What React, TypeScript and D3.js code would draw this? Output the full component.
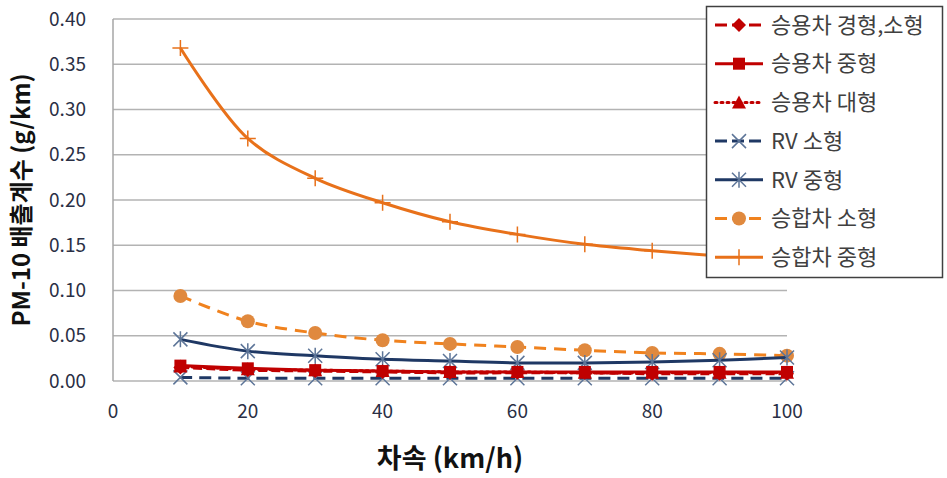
import React, { useEffect, useRef } from 'react';
import * as d3 from 'd3';

// speeds (km/h)
const speeds = [10, 20, 30, 40, 50, 60, 70, 80, 90, 100];
const xTicks = [0, 20, 40, 60, 80, 100];
const yTicks = [0, 0.05, 0.1, 0.15, 0.2, 0.25, 0.3, 0.35, 0.4];

const carSmall = [0.015, 0.012, 0.011, 0.010, 0.009, 0.009, 0.009, 0.008, 0.008, 0.008];
const carMid = [0.017, 0.014, 0.012, 0.011, 0.010, 0.010, 0.010, 0.010, 0.010, 0.010];
const carLarge = [0.016, 0.013, 0.012, 0.011, 0.010, 0.010, 0.009, 0.009, 0.009, 0.009];
const rvSmall = [0.004, 0.003, 0.003, 0.003, 0.003, 0.003, 0.003, 0.003, 0.003, 0.003];
const rvMid = [0.046, 0.033, 0.028, 0.024, 0.022, 0.020, 0.020, 0.021, 0.023, 0.026];
const vanSmall = [0.094, 0.066, 0.053, 0.045, 0.041, 0.0375, 0.034, 0.031, 0.030, 0.028];
const vanMid = [0.368, 0.268, 0.224, 0.197, 0.176, 0.162, 0.151, 0.144, 0.138, 0.132];

const seriesNames = [
  '승용차 경형,소형',
  '승용차 중형',
  '승용차 대형',
  'RV 소형',
  'RV 중형',
  '승합차 소형',
  '승합차 중형',
];

type Marker = 'diamond' | 'square' | 'triangle' | 'x' | 'asterisk' | 'circle' | 'plus';

const styles: { color: string; dash: string; marker: Marker; mColor: string; width: number }[] = [
  { color: '#c00000', dash: '9,4', marker: 'diamond', mColor: '#c00000', width: 3 },
  { color: '#c00000', dash: '', marker: 'square', mColor: '#c00000', width: 3 },
  { color: '#c00000', dash: '2,4', marker: 'triangle', mColor: '#c00000', width: 3 },
  { color: '#1f3864', dash: '12,7', marker: 'x', mColor: '#5d7598', width: 3 },
  { color: '#1f3864', dash: '', marker: 'asterisk', mColor: '#5d7598', width: 3 },
  { color: '#f0821e', dash: '12,8', marker: 'circle', mColor: '#e0893e', width: 3 },
  { color: '#e8711a', dash: '', marker: 'plus', mColor: '#e8711a', width: 3 },
];

const allValues = [carSmall, carMid, carLarge, rvSmall, rvMid, vanSmall, vanMid];

const font = "'Noto Sans CJK KR', 'Noto Sans', sans-serif";

function drawMarker(g: any, type: Marker, x: number, y: number, color: string) {
  if (type === 'diamond') {
    g.append('path').attr('d', `M${x},${y - 7}L${x + 7},${y}L${x},${y + 7}L${x - 7},${y}Z`).attr('fill', color);
  } else if (type === 'square') {
    g.append('rect').attr('x', x - 6).attr('y', y - 6).attr('width', 12).attr('height', 12).attr('fill', color);
  } else if (type === 'triangle') {
    g.append('path').attr('d', `M${x},${y - 7}L${x + 7},${y + 6}L${x - 7},${y + 6}Z`).attr('fill', color);
  } else if (type === 'circle') {
    g.append('circle').attr('cx', x).attr('cy', y).attr('r', 7).attr('fill', color);
  } else if (type === 'x') {
    g.append('path').attr('d', `M${x - 7},${y - 7}L${x + 7},${y + 7}M${x - 7},${y + 7}L${x + 7},${y - 7}`)
      .attr('stroke', color).attr('stroke-width', 1.5);
  } else if (type === 'asterisk') {
    g.append('path').attr('d', `M${x - 7},${y - 7}L${x + 7},${y + 7}M${x - 7},${y + 7}L${x + 7},${y - 7}M${x},${y - 8}L${x},${y + 8}`)
      .attr('stroke', color).attr('stroke-width', 1.5);
  } else if (type === 'plus') {
    g.append('path').attr('d', `M${x - 8},${y}L${x + 8},${y}M${x},${y - 8}L${x},${y + 8}`)
      .attr('stroke', color).attr('stroke-width', 1.5);
  }
}

const App = () => {
  const svgRef = useRef<SVGSVGElement>(null);

  useEffect(() => {
    const width = 947;
    const height = 478;
    const svg = d3.select(svgRef.current);
    svg.selectAll('*').remove();
    svg.attr('width', width).attr('height', height);

    const xScale = d3.scaleLinear().domain([0, 100]).range([113, 787]);
    const yScale = d3.scaleLinear().domain([0, 0.4]).range([381, 19]);

    // grid
    svg.append('g').selectAll('line').data(yTicks).enter().append('line')
      .attr('x1', xScale(0)).attr('x2', xScale(100))
      .attr('y1', (d) => yScale(d)).attr('y2', (d) => yScale(d))
      .attr('stroke', '#b3b3b3').attr('stroke-width', 1.5);

    svg.append('line')
      .attr('x1', xScale(0)).attr('x2', xScale(0))
      .attr('y1', yScale(0.4)).attr('y2', yScale(0))
      .attr('stroke', '#a6a6a6').attr('stroke-width', 1.5);

    // tick labels
    svg.append('g').selectAll('text').data(yTicks).enter().append('text')
      .attr('x', 86).attr('y', (d) => yScale(d))
      .attr('dy', '0.35em').attr('text-anchor', 'end')
      .style('font-family', font).style('font-size', '19px').style('fill', '#2a2f45')
      .text((d) => d3.format('.2f')(d));

    svg.append('g').selectAll('text').data(xTicks).enter().append('text')
      .attr('x', (d) => xScale(d)).attr('y', 411)
      .attr('dy', '0.35em').attr('text-anchor', 'middle')
      .style('font-family', font).style('font-size', '19px').style('fill', '#2a2f45')
      .text((d) => d);

    // axis titles
    svg.append('text')
      .attr('transform', 'rotate(-90)')
      .attr('x', -200).attr('y', 22)
      .attr('dy', '0.35em').attr('text-anchor', 'middle')
      .style('font-family', font).style('font-size', '24px').style('font-weight', 'bold').style('fill', '#111')
      .text('PM-10 배출계수 (g/km)');

    svg.append('text')
      .attr('x', 450).attr('y', 459)
      .attr('dy', '0.35em').attr('text-anchor', 'middle')
      .style('font-family', font).style('font-size', '27px').style('font-weight', 'bold').style('fill', '#111')
      .text('차속 (km/h)');

    // series
    const line = d3.line<number>()
      .x((_, i) => xScale(speeds[i]))
      .y((d) => yScale(d))
      .curve(d3.curveCatmullRom.alpha(0.5));

    const order = [6, 5, 4, 3, 0, 2, 1];
    order.forEach((si) => {
      const st = styles[si];
      const g = svg.append('g');
      g.append('path')
        .datum(allValues[si])
        .attr('fill', 'none')
        .attr('stroke', st.color)
        .attr('stroke-width', st.width)
        .attr('stroke-dasharray', st.dash || null)
        .attr('stroke-linecap', st.dash === '2,4' ? 'round' : 'butt')
        .attr('d', line);
      allValues[si].forEach((v, i) => drawMarker(g, st.marker, xScale(speeds[i]), yScale(v), st.mColor));
    });

    // legend
    const lg = svg.append('g');
    lg.append('rect')
      .attr('x', 706.5).attr('y', 6.5).attr('width', 236).attr('height', 271)
      .attr('fill', 'white').attr('stroke', '#404040').attr('stroke-width', 1.5);

    seriesNames.forEach((name, i) => {
      const st = styles[i];
      const cy = 25 + i * 38.7;
      lg.append('line')
        .attr('x1', 715).attr('x2', 763).attr('y1', cy).attr('y2', cy)
        .attr('stroke', st.color).attr('stroke-width', st.width)
        .attr('stroke-dasharray', st.dash === '2,4' ? '2,4' : st.dash ? '12,5' : null)
        .attr('stroke-linecap', st.dash === '2,4' ? 'round' : 'butt');
      drawMarker(lg, st.marker, 739, cy, st.mColor);
      lg.append('text')
        .attr('x', 771).attr('y', cy).attr('dy', '0.35em')
        .style('font-family', font).style('font-size', '22px').style('fill', '#404040')
        .text(name);
    });
  }, []);

  return <svg ref={svgRef} style={{ position: 'absolute', left: 0, top: 0 }}></svg>;
};

export default App;
